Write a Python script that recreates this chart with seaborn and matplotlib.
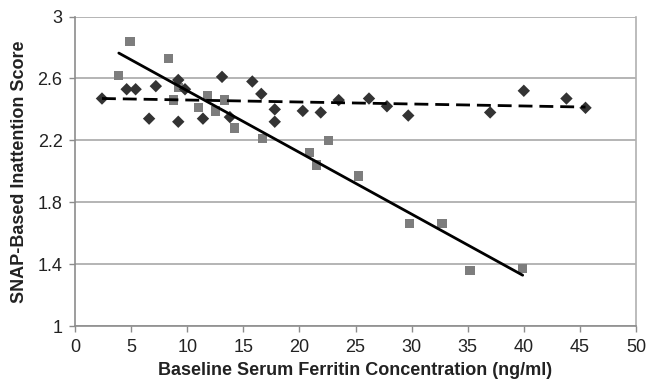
import matplotlib
matplotlib.use("Agg")
import matplotlib.pyplot as plt
import seaborn as sns
import pandas as pd

# diamonds: flat group
diamond_x = [2.4, 4.6, 5.4, 6.6, 7.2, 9.2, 9.2, 9.8, 11.4, 13.1, 13.8, 15.8, 16.6,
             17.8, 17.8, 20.3, 21.9, 23.5, 26.2, 27.8, 29.7, 37.0, 40.0, 43.8, 45.5]
diamond_y = [2.47, 2.53, 2.53, 2.34, 2.55, 2.59, 2.32, 2.53, 2.34, 2.61, 2.35, 2.58, 2.50,
             2.40, 2.32, 2.39, 2.38, 2.46, 2.47, 2.42, 2.36, 2.38, 2.52, 2.47, 2.41]

# squares: declining group
square_x = [3.9, 4.9, 8.3, 8.8, 9.2, 11.0, 11.8, 12.5, 13.3, 14.2, 16.7, 20.9,
            21.5, 22.6, 25.3, 29.8, 32.7, 35.2, 39.9]
square_y = [2.62, 2.84, 2.73, 2.46, 2.54, 2.41, 2.49, 2.39, 2.46, 2.28, 2.21, 2.12,
            2.04, 2.20, 1.97, 1.66, 1.66, 1.36, 1.37]

x_ticks = [0, 5, 10, 15, 20, 25, 30, 35, 40, 45, 50]
y_ticks = [1, 1.4, 1.8, 2.2, 2.6, 3]

df_d = pd.DataFrame({"x": diamond_x, "y": diamond_y})
df_s = pd.DataFrame({"x": square_x, "y": square_y})

sns.set_style("white")
plt.rcParams['font.family'] = ['Liberation Sans', 'DejaVu Sans']

fig = plt.figure(figsize=(6.47, 3.84), dpi=100)
ax = fig.add_axes([0.116, 0.151, 0.867, 0.806])

sns.scatterplot(data=df_s, x="x", y="y", marker="s", s=44, color="#7d7d7d",
                edgecolor="none", ax=ax, zorder=3)
sns.scatterplot(data=df_d, x="x", y="y", marker="D", s=40, color="#333333",
                edgecolor="none", ax=ax, zorder=3)

# trend lines
sns.regplot(data=df_s, x="x", y="y", scatter=False, ci=None, ax=ax,
            line_kws={"color": "black", "lw": 2, "zorder": 4})
sns.regplot(data=df_d, x="x", y="y", scatter=False, ci=None, ax=ax,
            line_kws={"color": "black", "lw": 2, "ls": (0, (5, 2.5)), "zorder": 4})

ax.set_xlim(0, 50)
ax.set_ylim(1, 3)
ax.set_xticks(x_ticks)
ax.set_yticks(y_ticks)
ax.set_xticklabels([str(t) for t in x_ticks])
ax.set_yticklabels([f"{t:g}" for t in y_ticks])
ax.yaxis.grid(True, color="#a8a8a8", lw=1.2)
ax.set_axisbelow(True)

for side in ["left", "bottom", "right"]:
    ax.spines[side].set_color("#8c8c8c")
    ax.spines[side].set_linewidth(1.2)
ax.spines["top"].set_visible(False)
ax.spines["right"].set_color("#b0b0b0")

ax.tick_params(axis="both", which="both", direction="out", length=4, width=1,
               color="#8c8c8c", labelsize=13, labelcolor="#222222")
ax.tick_params(axis="x", bottom=True, pad=5)
ax.tick_params(axis="y", left=True, pad=5)

ax.set_xlabel("Baseline Serum Ferritin Concentration (ng/ml)", fontsize=13,
              fontweight="bold", color="#222222", labelpad=5)
ax.set_ylabel("SNAP-Based Inattention Score", fontsize=13,
              fontweight="bold", color="#222222", labelpad=7)

fig.savefig("out.png", dpi=100)
plt.close(fig)
